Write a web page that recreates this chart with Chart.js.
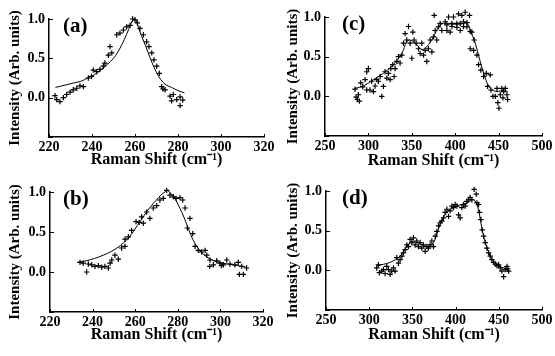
<!DOCTYPE html>
<html><head><meta charset="utf-8">
<script src="https://cdn.jsdelivr.net/npm/chart.js"></script>
<style>
html,body{margin:0;padding:0;background:#fff;}
body{width:555px;height:356px;position:relative;overflow:hidden;}
canvas{position:absolute;}
</style></head><body>
<canvas id="ca" width="278" height="178" style="left:0;top:0"></canvas>
<canvas id="cc" width="277" height="178" style="left:278px;top:0"></canvas>
<canvas id="cb" width="278" height="178" style="left:0;top:178px"></canvas>
<canvas id="cd" width="277" height="178" style="left:278px;top:178px"></canvas>
<script>
// ---------- data ----------
const yTicks = [-0.5, 0.0, 0.5, 1.0];
const xTicksAB = [220, 240, 260, 280, 300, 320];
const xTicksCD = [250, 300, 350, 400, 450, 500];
const panelLabels = ['(a)', '(b)', '(c)', '(d)'];
const xTitle = 'Raman Shift (cm\u207B\u00B9)';
const yTitle = 'Intensity (Arb. units)';

const aPtsX = [222.8,223.6,225.1,226.7,228.2,229.8,231.3,232.9,234.4,236.0,238.3,239.8,240.6,242.2,243.7,245.3,246.0,247.6,248.4,249.2,251.5,253.0,254.6,256.1,257.7,258.9,260.0,261.1,262.3,263.9,265.4,266.5,267.8,268.8,270.1,271.3,272.4,273.0,274.0,276.3,277.0,277.8,279.4,281.0,281.0,282.2];
const aPtsY = [0.025,-0.025,-0.05,0.0,0.04,0.07,0.10,0.12,0.15,0.14,0.25,0.27,0.35,0.33,0.36,0.40,0.44,0.54,0.65,0.57,0.80,0.82,0.86,0.90,0.92,1.0,0.99,0.95,0.88,0.80,0.71,0.65,0.57,0.48,0.40,0.31,0.14,0.11,0.10,0.02,-0.04,0.04,-0.025,0.01,-0.10,-0.03];
const aFitX = [223,226,229,232,235,238,241,244,247,250,252,254,256,258,259,260,261,262,264,266,268,270,272,274,277,280,283];
const aFitY = [0.13,0.15,0.17,0.19,0.21,0.25,0.29,0.35,0.42,0.50,0.58,0.68,0.80,0.93,0.99,1.0,0.95,0.86,0.72,0.58,0.44,0.32,0.23,0.17,0.13,0.09,0.06];

const bPtsX = [234.1,235.6,237.2,238.0,239.6,241.1,242.7,244.3,245.8,247.4,248.2,249.0,250.5,252.1,253.6,255.2,255.2,256.8,258.3,260.4,261.9,263.0,263.8,265.4,266.9,268.5,270.1,271.6,273.2,274.8,276.3,277.9,279.2,281.0,282.3,283.4,284.5,285.7,287.0,288.1,289.6,291.2,292.8,293.6,295.0,295.1,296.7,298.3,299.8,300.5,301.4,303.0,304.5,306.8,308.4,308.9,310.0,310.8,312.3];
const bPtsY = [0.12,0.11,0.00,0.10,0.09,0.07,0.08,0.06,0.07,0.05,0.11,0.15,0.21,0.16,0.30,0.32,0.41,0.44,0.52,0.63,0.62,0.69,0.61,0.75,0.67,0.80,0.83,0.90,0.92,1.02,0.96,0.94,0.92,0.93,0.90,0.80,0.55,0.67,0.48,0.32,0.27,0.25,0.27,0.21,0.07,0.15,0.09,0.14,0.11,0.08,0.09,0.15,0.10,0.09,0.12,-0.03,0.07,-0.03,0.05];
const bFitX = [233,237,241,245,249,253,257,261,264,267,270,272,274,275,276,278,280,282,284,286,288,290,293,297,301,306,312];
const bFitY = [0.12,0.14,0.17,0.21,0.26,0.33,0.43,0.58,0.70,0.81,0.90,0.96,1.0,1.02,1.0,0.95,0.85,0.74,0.61,0.47,0.36,0.28,0.20,0.14,0.11,0.09,0.06];

const cPtsX = [284.6,285.8,287.3,288.5,289.6,291.2,293.5,296.2,298.1,298.1,300.0,301.9,303.8,305.8,307.7,309.6,311.5,313.5,315.4,317.3,319.2,321.2,323.1,325.0,325.8,328.1,329.6,330.8,332.7,334.6,336.5,338.5,340.4,342.3,344.2,346.2,348.1,350.0,351.2,352.7,355.0,357.7,359.6,361.5,363.5,365.4,367.3,369.2,371.2,373.1,375.0,375.8,376.9,378.8,380.8,382.7,384.6,386.5,388.5,390.4,390.4,392.3,394.2,396.2,396.2,398.1,400.0,401.9,401.9,403.8,405.8,405.8,407.7,409.6,409.6,411.5,413.5,413.5,416.5,417.3,417.3,419.2,421.2,421.9,425.0,426.9,429.6,432.7,435.8,437.3,440.4,441.2,443.5,446.2,448.1,449.2,450.4,451.9,453.8,455.0,455.8,457.7,459.6,460.4];
const cPtsY = [0.09,-0.01,-0.04,0.02,-0.06,0.17,0.12,0.21,0.31,0.08,0.35,0.08,0.19,0.06,0.13,0.21,0.19,0.25,0.0,0.125,0.31,0.23,0.29,0.21,0.35,0.40,0.25,0.35,0.44,0.50,0.42,0.52,0.67,0.79,0.71,0.88,0.67,0.48,0.81,0.71,0.67,0.60,0.54,0.67,0.52,0.58,0.44,0.60,0.71,0.56,0.75,1.02,0.83,0.71,0.875,0.92,0.83,1.125,0.94,0.90,0.83,1.0,0.81,0.92,0.88,1.0,1.125,0.92,0.87,1.04,0.83,0.92,1.02,0.94,0.88,1.06,0.875,0.93,1.02,0.60,0.82,0.81,0.58,0.71,0.52,0.40,0.33,0.25,0.29,0.125,0.27,0.08,0.0,0.0,0.10,-0.08,-0.15,0.02,0.10,-0.02,0.06,0.10,0.02,-0.04];
const cFitX = [284.6,294.2,305.8,317.3,328.8,338.5,344.2,348.1,355.8,361.5,367.3,375.0,380.8,386.5,396.2,405.8,413.5,417.3,423.1,428.8,434.6,440.4,448.1,455.8,460.4];
const cFitY = [0.10,0.13,0.21,0.29,0.40,0.54,0.69,0.71,0.65,0.59,0.625,0.75,0.875,0.92,0.91,0.91,0.92,0.83,0.67,0.44,0.23,0.10,0.06,0.08,0.06];

const dPtsX = [308.7,310.7,311.8,314.5,316.5,318.4,320.3,322.3,324.2,326.1,328.1,330.0,331.9,333.9,335.8,337.8,339.6,341.6,343.6,345.4,347.4,349.3,351.2,353.2,355.1,357.0,359.0,360.9,362.8,364.8,366.7,368.6,370.6,372.5,374.4,376.4,378.3,380.2,382.1,384.1,386.0,387.9,389.9,391.8,393.7,395.7,397.6,399.5,401.5,403.4,405.3,407.2,409.2,411.1,413.0,415.0,416.9,418.8,421.5,423.9,424.7,426.6,427.7,429.3,430.8,432.4,434.3,436.2,438.2,440.1,442.0,444.0,445.9,447.8,449.8,451.7,453.6,455.6,457.5,459.5,460.4,461.4];
const dPtsY = [0.03,0.07,-0.03,-0.01,0.01,-0.04,0.05,0.01,-0.05,-0.01,0.03,-0.01,0.16,0.09,0.135,0.18,0.22,0.26,0.32,0.30,0.39,0.35,0.41,0.32,0.37,0.30,0.35,0.28,0.32,0.24,0.30,0.28,0.32,0.37,0.30,0.43,0.49,0.56,0.60,0.62,0.66,0.73,0.77,0.68,0.75,0.81,0.79,0.83,0.81,0.70,0.66,0.79,0.83,0.81,0.87,0.89,0.92,0.89,1.02,0.96,0.85,0.83,0.73,0.64,0.51,0.43,0.35,0.28,0.22,0.18,0.135,0.10,0.08,0.06,0.07,0.03,-0.01,-0.08,0.01,0.05,0.02,-0.01];
const dFitX = [308.7,324.2,335.8,347.4,355.1,366.7,374.4,382.1,389.9,401.5,413.0,420.7,425.4,432.4,440.1,447.8,455.6,461.4];
const dFitY = [0.06,0.10,0.18,0.35,0.355,0.30,0.35,0.58,0.73,0.81,0.85,0.89,0.81,0.43,0.18,0.07,0.03,0.01];

// ---------- drawing ----------
const FONT = "'Liberation Serif','Times New Roman',serif";

const decor = {
  id: 'decor',
  afterDraw(chart, args, opts) {
    const {ctx, chartArea: ca, scales: {x, y}} = chart;
    ctx.save();
    ctx.strokeStyle = '#000';
    ctx.lineWidth = 1;
    ctx.beginPath();
    x.ticks.forEach(t => {
      const px = Math.round(x.getPixelForValue(t.value)) + 0.5;
      ctx.moveTo(px, ca.bottom); ctx.lineTo(px, ca.bottom - 3);
    });
    y.ticks.forEach(t => {
      const py = Math.round(y.getPixelForValue(t.value)) + 0.5;
      ctx.moveTo(ca.left, py); ctx.lineTo(ca.left + 4, py);
    });
    ctx.stroke();
    ctx.font = 'bold 21px ' + FONT;
    ctx.fillStyle = '#000';
    ctx.textBaseline = 'middle';
    ctx.textAlign = 'left';
    ctx.fillText(opts.label, x.getPixelForValue(opts.lx), y.getPixelForValue(opts.ly));
    ctx.restore();
  }
};

function toPts(xs, ys) { return xs.map((v, i) => ({x: v, y: ys[i]})); }

function makePanel(id, p) {
  const c = document.getElementById(id);
  const W = c.width, H = c.height;
  new Chart(c, {
    data: {
      datasets: [
        { type: 'scatter', data: toPts(p.px, p.py), pointStyle: 'cross', pointRadius: 2.7,
          borderColor: '#000', backgroundColor: '#000', borderWidth: 1.2, clip: false },
        { type: 'line', data: toPts(p.fx, p.fy), borderColor: '#000', borderWidth: 1,
          pointRadius: 0, tension: 0.35, fill: false, clip: false }
      ]
    },
    options: {
      responsive: false, animation: false, devicePixelRatio: 1,
      layout: { padding: { left: 0, top: p.top, right: W - p.right, bottom: 0 } },
      plugins: { legend: { display: false }, tooltip: { enabled: false },
                 decor: { label: p.label, lx: p.lx, ly: p.ly } },
      scales: {
        x: {
          type: 'linear', min: p.xTicks[0], max: p.xTicks[p.xTicks.length - 1],
          afterBuildTicks: s => { s.ticks = p.xTicks.map(v => ({value: v})); },
          afterFit: s => { s.height = H - p.bottom; },
          grid: { display: false, drawTicks: false },
          border: { display: true, color: '#000', width: 1.5 },
          ticks: { padding: 2, color: '#000', maxRotation: 0, autoSkip: false,
                   font: { family: FONT, size: 14, weight: 'bold' }, callback: v => String(v) },
          title: { display: true, text: xTitle, color: '#000',
                   font: { family: FONT, size: 16, weight: 'bold' },
                   padding: { top: 0, bottom: p.xtPad } }
        },
        y: {
          type: 'linear', min: -0.5, max: 1.0,
          afterBuildTicks: s => { s.ticks = yTicks.map(v => ({value: v})); },
          afterFit: s => { s.width = p.left; },
          grid: { display: false, drawTicks: false },
          border: { display: true, color: '#000', width: 1.5 },
          ticks: { padding: 4, color: '#000', autoSkip: false,
                   font: { family: FONT, size: 14, weight: 'bold' },
                   callback: v => (v < -0.01 ? '' : Number(v).toFixed(1)) },
          title: { display: true, text: yTitle, color: '#000',
                   font: { family: FONT, size: 15, weight: 'bold' },
                   padding: { top: p.ytPad, bottom: 0 } }
        }
      }
    },
    plugins: [decor]
  });
}

makePanel('ca', { px: aPtsX, py: aPtsY, fx: aFitX, fy: aFitY, xTicks: xTicksAB,
  left: 49, right: 264, top: 19, bottom: 137, xtPad: 9, ytPad: 6,
  label: panelLabels[0], lx: 226.5, ly: 0.91 });
makePanel('cb', { px: bPtsX, py: bPtsY, fx: bFitX, fy: bFitY, xTicks: xTicksAB,
  left: 50, right: 263, top: 14, bottom: 134, xtPad: 12, ytPad: 6,
  label: panelLabels[1], lx: 226.1, ly: 0.91 });
makePanel('cc', { px: cPtsX, py: cPtsY, fx: cFitX, fy: cFitY, xTicks: xTicksCD,
  left: 47, right: 264, top: 17, bottom: 136, xtPad: 8, ytPad: 6,
  label: panelLabels[2], lx: 269.6, ly: 0.9 });
makePanel('cd', { px: dPtsX, py: dPtsY, fx: dFitX, fy: dFitY, xTicks: xTicksCD,
  left: 48, right: 264, top: 13, bottom: 132, xtPad: 12, ytPad: 6,
  label: panelLabels[3], lx: 268.5, ly: 0.9 });
</script>
</body></html>
